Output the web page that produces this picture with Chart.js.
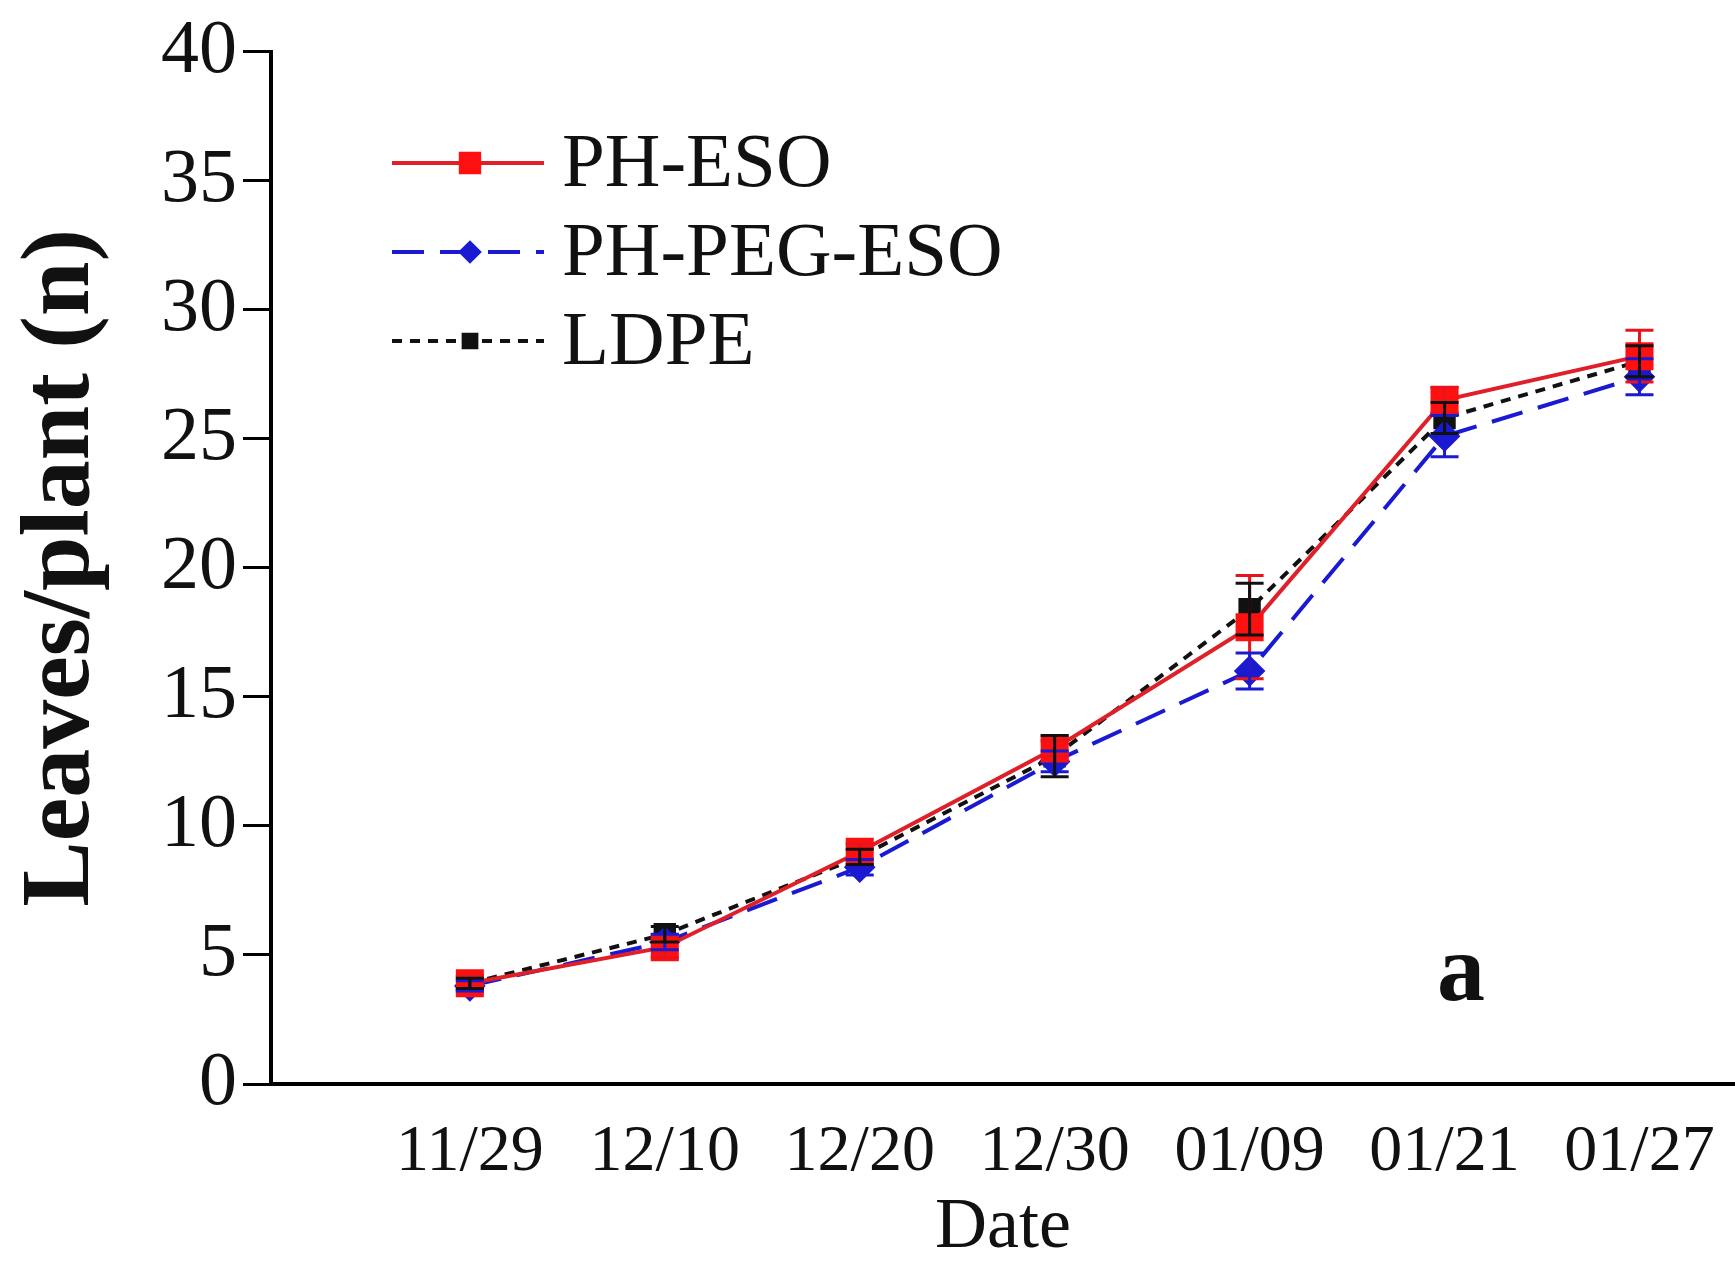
<!DOCTYPE html>
<html>
<head>
<meta charset="utf-8">
<title>Leaves/plant</title>
<script src="https://cdn.jsdelivr.net/npm/chart.js@4.4.1/dist/chart.umd.min.js"></script>
<style>
  html, body { margin: 0; padding: 0; background: #fff; }
  canvas { display: block; }
</style>
</head>
<body>
<canvas id="leafChart" width="1735" height="1264"></canvas>
<script>
// values
const dates      = ['11/29', '12/10', '12/20', '12/30', '01/09', '01/21', '01/27'];
const phEso      = [3.9, 5.3, 9.0, 13.0, 17.7, 26.5, 28.2];
const phEsoErr   = [0.3, 0.4, 0.3, 0.3, 2.0, 0.5, 1.0];
const phPegEso   = [3.8, 5.5, 8.4, 12.5, 16.0, 25.1, 27.4];
const phPegErr   = [0.2, 0.3, 0.3, 0.4, 0.7, 0.8, 0.7];
const ldpe       = [3.9, 5.8, 8.8, 12.7, 18.4, 25.8, 28.0];
const ldpeErr    = [0.2, 0.3, 0.3, 0.8, 1.0, 0.6, 0.6];
const yTicks     = [0, 5, 10, 15, 20, 25, 30, 35, 40];

const SERIF = '"Liberation Serif", "Times New Roman", serif';

const toXY = arr => arr.map((v, i) => ({ x: i, y: v }));

// vertical error bars with caps, through the scales
const errorBars = {
  id: 'errorBars',
  afterDatasetsDraw(chart) {
    const { ctx, scales: { x, y } } = chart;
    ctx.save();
    chart.data.datasets.forEach(ds => {
      if (!ds.errors) return;
      ctx.strokeStyle = ds.errColor;
      ctx.lineWidth = 3;
      ctx.setLineDash([]);
      ds.data.forEach((p, i) => {
        const e = ds.errors[i];
        const px = x.getPixelForValue(p.x);
        const top = y.getPixelForValue(p.y + e);
        const bot = y.getPixelForValue(p.y - e);
        ctx.beginPath();
        ctx.moveTo(px, top); ctx.lineTo(px, bot);
        ctx.moveTo(px - 14, top); ctx.lineTo(px + 14, top);
        ctx.moveTo(px - 14, bot); ctx.lineTo(px + 14, bot);
        ctx.stroke();
      });
    });
    ctx.restore();
  }
};

// legend with line + marker, and the panel letter
const lineLegend = {
  id: 'lineLegend',
  afterDraw(chart) {
    const ctx = chart.ctx;
    ctx.save();
    chart.data.datasets.forEach((ds, i) => {
      const y = 163 + i * 89;
      ctx.strokeStyle = ds.borderColor;
      ctx.lineWidth = ds.borderWidth;
      ctx.setLineDash(ds.borderDash || []);
      ctx.beginPath();
      ctx.moveTo(392, y); ctx.lineTo(544, y);
      ctx.stroke();
      ctx.setLineDash([]);
      ctx.fillStyle = ds.pointBackgroundColor;
      ctx.strokeStyle = ds.pointBorderColor;
      Chart.helpers.drawPoint(ctx, {
        pointStyle: ds.pointStyle, radius: ds.pointRadius - 4, rotation: 0, borderWidth: 1
      }, 470, y);
      ctx.fillStyle = '#111';
      ctx.font = '77px ' + SERIF;
      ctx.textBaseline = 'middle';
      ctx.textAlign = 'left';
      ctx.fillText(ds.label, 562, y + 3);
    });
    ctx.font = 'bold 96px ' + SERIF;
    ctx.textAlign = 'center';
    ctx.fillText('a', 1461, 975);
    ctx.restore();
  }
};

new Chart(document.getElementById('leafChart'), {
  type: 'line',
  data: {
    datasets: [{
      label: 'PH-ESO',
      data: toXY(phEso),
      errors: phEsoErr,
      errColor: '#e8141c',
      borderColor: '#e02029',
      borderWidth: 4,
      pointStyle: 'rect',
      pointRadius: 17,
      pointBackgroundColor: '#ff1010',
      pointBorderColor: '#ff1010',
      tension: 0
    }, {
      label: 'PH-PEG-ESO',
      data: toXY(phPegEso),
      errors: phPegErr,
      errColor: '#1a1ad2',
      borderColor: '#1a1ad2',
      borderWidth: 4,
      borderDash: [32, 16],
      pointStyle: 'rectRot',
      pointRadius: 13,
      pointBackgroundColor: '#1a1ad2',
      pointBorderColor: '#1a1ad2',
      tension: 0
    }, {
      label: 'LDPE',
      data: toXY(ldpe),
      errors: ldpeErr,
      errColor: '#111',
      borderColor: '#111',
      borderWidth: 4,
      borderDash: [10, 8],
      pointStyle: 'rect',
      pointRadius: 13,
      pointBackgroundColor: '#111',
      pointBorderColor: '#111',
      tension: 0
    }]
  },
  options: {
    responsive: false,
    animation: false,
    devicePixelRatio: 1,
    layout: { autoPadding: false, padding: { top: 50, right: 0, left: 0, bottom: 0 } },
    plugins: { legend: { display: false }, tooltip: { enabled: false } },
    scales: {
      x: {
        type: 'linear',
        min: -1.02,
        max: 6.49,
        afterBuildTicks: s => { s.ticks = dates.map((d, i) => ({ value: i })); },
        afterFit: s => { s.height = 180; s.paddingLeft = 0; s.paddingRight = 0; },
        grid: { display: false, drawTicks: false },
        border: { display: true, color: '#000', width: 4 },
        ticks: {
          autoSkip: false,
          maxRotation: 0,
          padding: 29,
          color: '#111',
          font: { family: SERIF, size: 66 },
          callback: v => dates[v] ?? ''
        },
        title: {
          display: true,
          text: 'Date',
          color: '#111',
          font: { family: SERIF, size: 72, lineHeight: 1 },
          padding: { top: 0, bottom: 0 }
        }
      },
      y: {
        min: 0,
        max: 40,
        afterBuildTicks: s => { s.ticks = yTicks.map(v => ({ value: v })); },
        afterFit: s => { s.width = 271; },
        grid: { drawOnChartArea: false, drawTicks: true, tickLength: 28, color: '#000', lineWidth: 3 },
        border: { display: true, color: '#000', width: 4 },
        ticks: {
          padding: 6,
          color: '#111',
          font: { family: SERIF, size: 76 }
        },
        title: {
          display: true,
          text: 'Leaves/plant (n)',
          color: '#111',
          font: { family: SERIF, size: 98, weight: 'bold', lineHeight: 1 },
          padding: { top: 14, bottom: 0 }
        }
      }
    }
  },
  plugins: [errorBars, lineLegend]
});
</script>
</body>
</html>
